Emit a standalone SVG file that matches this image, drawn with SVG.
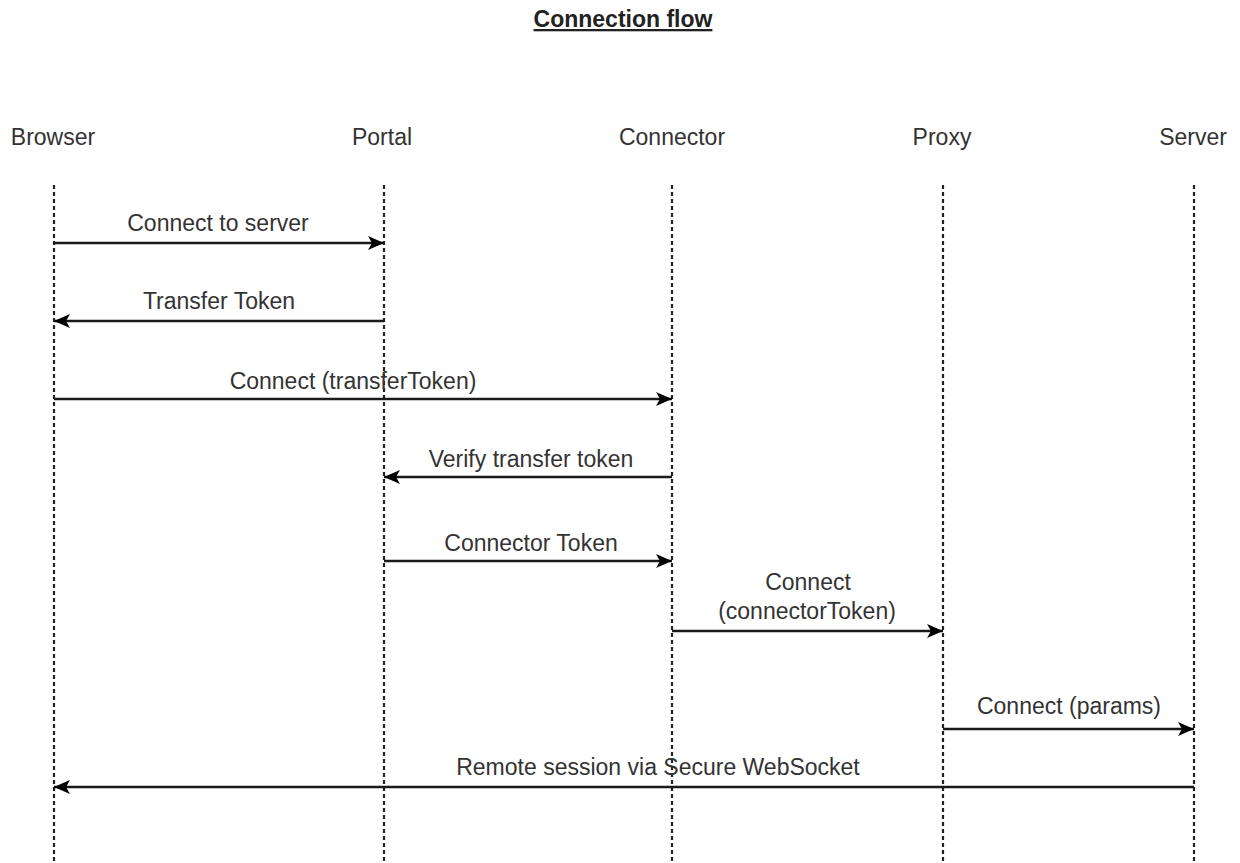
<svg xmlns="http://www.w3.org/2000/svg" width="1240" height="863" viewBox="0 0 1240 863">
<style>
text{font-family:"Liberation Sans",Arial,sans-serif;font-size:23px;fill:#333;text-anchor:middle}
.title{font-weight:bold;fill:#222;text-decoration:underline}
.life{stroke:#222;stroke-width:2.2;stroke-dasharray:4 3;fill:none}
.msg{stroke:#1a1a1a;stroke-width:2.4;fill:none;marker-end:url(#ah)}
</style>
<defs>
<marker id="ah" viewBox="0 0 16 14" refX="16" refY="7" markerWidth="16" markerHeight="14" markerUnits="userSpaceOnUse" orient="auto">
<path d="M0,0 L16,7 L0,14 L4,7 Z" fill="#000"/>
</marker>
</defs>
<rect width="1240" height="863" fill="#fff"/>
<text class="title" x="623" y="27">Connection flow</text>
<g id="browser"><text x="53" y="145">Browser</text><line class="life" x1="54" y1="185" x2="54" y2="863"/></g>
<g id="portal"><text x="382" y="145">Portal</text><line class="life" x1="384" y1="185" x2="384" y2="863"/></g>
<g id="connector"><text x="672" y="145">Connector</text><line class="life" x1="672" y1="185" x2="672" y2="863"/></g>
<g id="proxy"><text x="942" y="145">Proxy</text><line class="life" x1="943" y1="185" x2="943" y2="863"/></g>
<g id="server"><text x="1193" y="145">Server</text><line class="life" x1="1194" y1="185" x2="1194" y2="863"/></g>
<g id="connectors">
<line class="msg" x1="54" y1="243" x2="384" y2="243"/>
<text x="218" y="231">Connect to server</text>
<line class="msg" x1="384" y1="321" x2="54" y2="321"/>
<text x="219" y="309">Transfer Token</text>
<line class="msg" x1="54" y1="399" x2="672" y2="399"/>
<text x="353" y="389">Connect (transferToken)</text>
<line class="msg" x1="672" y1="477" x2="384" y2="477"/>
<text x="531" y="467">Verify transfer token</text>
<line class="msg" x1="384" y1="561" x2="672" y2="561"/>
<text x="531" y="551">Connector Token</text>
<line class="msg" x1="672" y1="631" x2="943" y2="631"/>
<text x="808" y="590">Connect</text>
<text x="807" y="619">(connectorToken)</text>
<line class="msg" x1="943" y1="729" x2="1194" y2="729"/>
<text x="1069" y="714">Connect (params)</text>
<line class="msg" x1="1194" y1="787" x2="54" y2="787"/>
<text x="658" y="775">Remote session via Secure WebSocket</text>
</g>
</svg>
